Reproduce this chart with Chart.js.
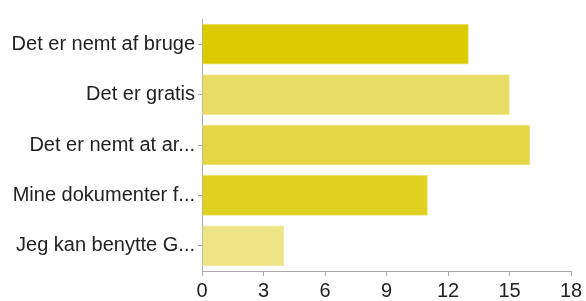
<!DOCTYPE html>
<html>
<head>
<meta charset="utf-8">
<script src="https://cdn.jsdelivr.net/npm/chart.js@4/dist/chart.umd.min.js"></script>
<style>
  html, body { margin: 0; padding: 0; background: #fff; }
  canvas { display: block; }
</style>
</head>
<body>
<canvas id="reasonsChart" width="586" height="301"></canvas>
<script>
// svar fra spørgeskema
const labels = ['Det er nemt af bruge', 'Det er gratis', 'Det er nemt at ar...', 'Mine dokumenter f...', 'Jeg kan benytte G...'];
const counts = [13, 15, 16, 11, 4];
const barColors = ['#dccb00', '#e8dd64', '#e4d644', '#e0d020', '#ece385'];
const borderColors = ['#ece27a', '#f2ea9e', '#efe58c', '#ece170', '#f4eeb0'];
const xTicks = [0, 3, 6, 9, 12, 15, 18];

Chart.defaults.font.family = '"Liberation Sans", Arial, sans-serif';
Chart.defaults.color = '#222';

new Chart(document.getElementById('reasonsChart'), {
    type: 'bar',
    data: {
        labels: labels,
        datasets: [{
            data: counts,
            backgroundColor: barColors,
            borderColor: borderColors,
            borderWidth: 1,
            barThickness: 40
        }]
    },
    options: {
        indexAxis: 'y',
        responsive: false,
        animation: false,
        layout: { padding: { top: 19, right: 15, left: 0, bottom: 0 } },
        plugins: { legend: { display: false }, tooltip: { enabled: false } },
        scales: {
            x: {
                min: 0,
                max: 18,
                afterBuildTicks: axis => { axis.ticks = xTicks.map(v => ({ value: v })); },
                afterFit: axis => { axis.height = 30; },
                ticks: { font: { size: 20 }, padding: 3, color: '#222', maxRotation: 0 },
                grid: { drawOnChartArea: false, tickLength: 5, color: '#aaa' },
                border: { color: '#aaa', width: 1 }
            },
            y: {
                afterFit: axis => { axis.width = 202; },
                ticks: { font: { size: 20 }, padding: 3, color: '#222' },
                grid: { drawOnChartArea: false, offset: false, tickLength: 4, color: '#aaa' },
                border: { color: '#aaa', width: 1 }
            }
        }
    }
});
</script>
</body>
</html>
